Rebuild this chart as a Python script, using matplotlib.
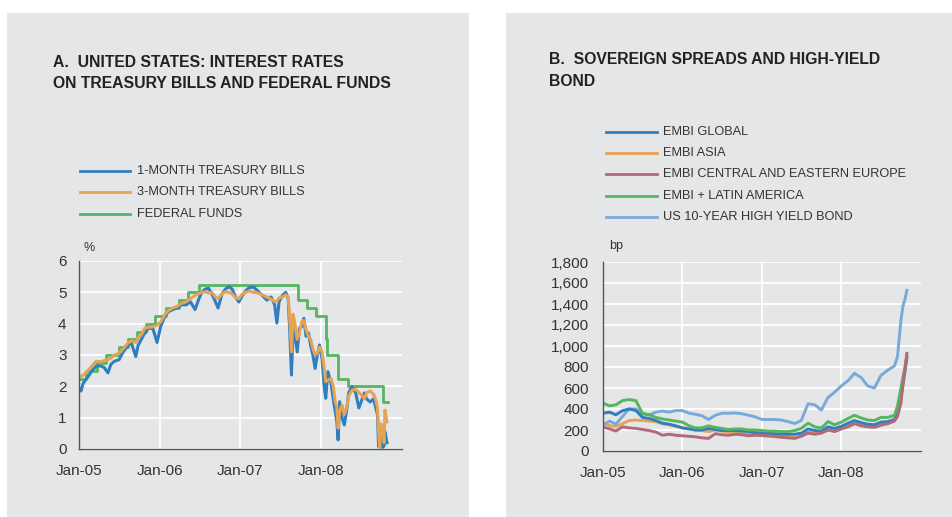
import numpy as np
import pandas as pd
import matplotlib
matplotlib.use('Agg')
import matplotlib.pyplot as plt
from matplotlib.lines import Line2D
from matplotlib.patches import Rectangle
from matplotlib.ticker import FuncFormatter

plt.rcParams['font.family'] = ['Liberation Sans', 'DejaVu Sans']

# Panel A data ----------------------------------------------------------------
fed_dates = ['2005-01-01', '2005-02-02', '2005-03-22', '2005-05-03', '2005-06-30', '2005-08-09',
             '2005-09-20', '2005-11-01', '2005-12-13', '2006-01-31', '2006-03-28', '2006-05-10',
             '2006-06-29', '2007-09-18', '2007-10-31', '2007-12-11', '2008-01-22', '2008-01-30',
             '2008-03-18', '2008-04-30', '2008-10-08', '2008-10-29']
fed_rate = [2.25, 2.5, 2.75, 3.0, 3.25, 3.5, 3.75, 4.0, 4.25, 4.5, 4.75, 5.0,
            5.25, 4.75, 4.5, 4.25, 3.5, 3.0, 2.25, 2.0, 1.5, 1.5]

tb_dates = ['2005-01-01', '2005-01-10', '2005-01-20', '2005-02-10', '2005-03-01', '2005-03-20',
            '2005-04-10', '2005-04-25', '2005-05-12', '2005-05-25', '2005-06-10', '2005-07-01',
            '2005-07-20', '2005-08-10', '2005-08-25', '2005-09-15', '2005-09-25', '2005-10-10',
            '2005-10-25', '2005-11-10', '2005-12-01', '2005-12-20', '2006-01-05', '2006-01-25',
            '2006-02-10', '2006-03-01', '2006-03-20', '2006-04-10', '2006-05-01', '2006-05-20',
            '2006-06-10', '2006-06-25', '2006-07-10', '2006-07-25', '2006-08-10', '2006-08-25',
            '2006-09-10', '2006-09-22', '2006-10-10', '2006-10-25', '2006-11-10', '2006-11-25',
            '2006-12-10', '2006-12-25', '2007-01-10', '2007-01-25', '2007-02-10', '2007-03-01',
            '2007-03-20', '2007-04-10', '2007-05-01', '2007-05-20', '2007-06-05', '2007-06-15',
            '2007-06-25', '2007-07-10', '2007-07-25', '2007-08-05', '2007-08-12', '2007-08-20',
            '2007-08-27', '2007-09-05', '2007-09-15', '2007-09-25', '2007-10-05', '2007-10-15',
            '2007-10-25', '2007-11-05', '2007-11-15', '2007-11-25', '2007-12-05', '2007-12-15',
            '2007-12-25', '2008-01-05', '2008-01-15', '2008-01-22', '2008-02-01', '2008-02-15',
            '2008-02-25', '2008-03-05', '2008-03-12', '2008-03-18', '2008-03-25', '2008-04-05',
            '2008-04-15', '2008-04-25', '2008-05-05', '2008-05-20', '2008-06-05', '2008-06-20',
            '2008-07-05', '2008-07-15', '2008-07-25', '2008-08-10', '2008-08-25', '2008-09-05',
            '2008-09-12', '2008-09-17', '2008-09-22', '2008-09-28', '2008-10-05', '2008-10-12',
            '2008-10-16', '2008-10-25']
tb_1m = [1.95, 1.85, 2.1, 2.3, 2.5, 2.65,
         2.65, 2.6, 2.43, 2.7, 2.8, 2.85,
         3.1, 3.3, 3.4, 2.95, 3.3, 3.5,
         3.7, 3.85, 3.85, 3.4, 3.9, 4.25,
         4.38, 4.45, 4.5, 4.6, 4.6, 4.7,
         4.45, 4.75, 5.0, 5.1, 5.13, 4.95,
         4.7, 4.5, 4.95, 5.1, 5.18, 5.1,
         4.85, 4.69, 4.9, 5.05, 5.15, 5.17,
         5.05, 4.9, 4.75, 4.85, 4.6, 4.02,
         4.7, 4.9, 5.0, 4.8, 3.8, 2.36,
         3.8, 3.6, 3.1, 3.85, 3.9, 4.17,
         3.6, 3.7, 3.3, 3.0, 2.57, 3.0,
         3.32, 2.9, 2.0, 1.62, 2.47, 2.1,
         1.6, 1.19, 0.9, 0.29, 1.51, 1.0,
         0.77, 1.2, 1.8, 1.99, 1.8, 1.31,
         1.6, 1.79, 1.6, 1.5, 1.6, 1.3,
         1.1, 0.07, 0.3, 0.6, 0.05, 0.1,
         0.55, 0.2]
tb_3m = [2.3, 2.32, 2.35, 2.5, 2.65, 2.8,
         2.78, 2.82, 2.85, 2.9, 3.0, 3.05,
         3.2, 3.38, 3.45, 3.4, 3.55, 3.65,
         3.85, 3.88, 3.9, 3.95, 4.05, 4.3,
         4.42, 4.5, 4.55, 4.65, 4.7, 4.8,
         4.9, 4.95, 5.0, 5.02, 4.98, 5.0,
         4.85, 4.8, 4.95, 5.02, 5.0, 4.95,
         4.82, 4.8, 4.95, 5.0, 5.05, 5.0,
         4.98, 4.92, 4.85, 4.78, 4.7, 4.72,
         4.82, 4.85, 4.92, 4.85, 4.2, 3.1,
         4.3, 4.0, 3.5, 3.7, 4.05, 4.1,
         3.8, 3.6, 3.5, 3.2, 3.0, 3.05,
         3.25, 3.1, 2.6, 2.15, 2.2, 2.25,
         2.0, 1.5, 1.35, 0.66, 1.2, 1.4,
         1.1, 1.3, 1.7, 1.88, 1.9, 1.8,
         1.7, 1.6, 1.8, 1.85, 1.75, 1.55,
         1.3, 0.55, 0.05, 0.8, 0.6, 0.2,
         1.24, 0.87]

# Panel B data ----------------------------------------------------------------
sp_dates = list(pd.date_range('2005-01-01', '2008-09-01', freq='MS').strftime('%Y-%m-%d')) + \
    ['2008-09-15', '2008-10-01', '2008-10-10', '2008-10-20', '2008-10-28']
embi_global = [360, 370, 345, 385, 400, 385, 320, 310, 290, 265, 255, 240,
               220, 210, 200, 200, 215, 205, 195, 195, 195, 190, 185, 175,
               170, 168, 165, 160, 160, 160, 170, 210, 195, 190, 230, 215,
               235, 265, 290, 270, 255, 250, 275, 280, 300,
               360, 520, 640, 780, 890]
embi_asia = [270, 240, 235, 260, 290, 295, 290, 285, 280, 260, 250, 235,
             220, 210, 200, 195, 185, 200, 190, 180, 172, 168, 160, 155,
             145, 140, 135, 135, 135, 130, 145, 180, 170, 175, 200, 190,
             215, 240, 265, 250, 240, 235, 255, 265, 290,
             330, 480, 620, 760, 880]
embi_cee = [230, 210, 190, 230, 220, 215, 205, 195, 180, 150, 160, 150,
            145, 140, 135, 125, 120, 165, 155, 150, 160, 155, 145, 150,
            150, 145, 140, 130, 125, 120, 140, 170, 160, 170, 200, 185,
            210, 230, 260, 240, 230, 225, 245, 260, 285,
            330, 460, 650, 800, 930]
embi_latam = [455, 430, 440, 480, 490, 480, 360, 345, 320, 305, 295, 285,
              275, 240, 220, 220, 240, 225, 215, 205, 210, 210, 200, 200,
              195, 190, 190, 185, 185, 195, 215, 265, 230, 220, 280, 250,
              275, 310, 340, 315, 295, 290, 320, 320, 340,
              430, 600, 700, 800, 910]
us_hy = [250, 285, 255, 330, 400, 400, 350, 345, 370, 380, 370, 385,
         385, 360, 350, 335, 300, 340, 360, 360, 362, 355, 340, 325,
         300, 300, 300, 295, 280, 262, 290, 450, 440, 390, 510, 560,
         620, 670, 740, 700, 620, 600, 720, 770, 810,
         900, 1250, 1380, 1450, 1530]

labels_a = ['1-MONTH TREASURY BILLS', '3-MONTH TREASURY BILLS', 'FEDERAL FUNDS']
labels_b = ['EMBI GLOBAL', 'EMBI ASIA', 'EMBI CENTRAL AND EASTERN EUROPE',
            'EMBI + LATIN AMERICA', 'US 10-YEAR HIGH YIELD BOND']
year_ticks = ['2005-01-01', '2006-01-01', '2007-01-01', '2008-01-01']
year_labels = ['Jan-05', 'Jan-06', 'Jan-07', 'Jan-08']

BG = '#e5e6e8'
TXT = '#333333'
c_blue = '#2f7fc0'
c_orange = '#e3a455'
c_green = '#55b560'
c_mauve = '#b06a7a'
c_light = '#78a9d9'

W, H = 953, 517
fig = plt.figure(figsize=(9.53, 5.17), dpi=100)
fig.patch.set_facecolor('white')

def px(x, y):
    return x / W, 1 - y / H

# grey panels
fig.add_artist(Rectangle((7 / W, 0), 462 / W, 1 - 13 / H, transform=fig.transFigure,
                         facecolor=BG, edgecolor='none', zorder=0))
fig.add_artist(Rectangle((506 / W, 0), 447 / W, 1 - 13 / H, transform=fig.transFigure,
                         facecolor=BG, edgecolor='none', zorder=0))

def style_axes(ax, ylim, yticks, fmt, pad_y):
    ax.set_facecolor(BG)
    ax.set_xlim(pd.Timestamp('2005-01-01'), pd.Timestamp('2009-01-01'))
    ax.set_ylim(*ylim)
    ax.set_yticks(yticks)
    ax.yaxis.set_major_formatter(FuncFormatter(fmt))
    ax.set_xticks(pd.to_datetime(year_ticks))
    ax.set_xticklabels(year_labels)
    ax.grid(True, color='white', lw=1.3)
    ax.set_axisbelow(True)
    for s in ['top', 'right']:
        ax.spines[s].set_visible(False)
    for s in ['left', 'bottom']:
        ax.spines[s].set_color('#555555')
        ax.spines[s].set_linewidth(1.0)
        ax.spines[s].set_zorder(5)
    ax.tick_params(axis='both', length=0, labelsize=11, colors=TXT)
    ax.tick_params(axis='y', pad=pad_y)
    ax.tick_params(axis='x', pad=11)

# Panel A ---------------------------------------------------------------------
axA = fig.add_axes([79 / W, 1 - 449 / H, 323 / W, 188 / H])
style_axes(axA, (0, 6), range(0, 7), lambda v, p: f'{v:.0f}', 9)
axA.plot(pd.to_datetime(tb_dates), tb_1m, color=c_blue, lw=2.2, zorder=3)
axA.plot(pd.to_datetime(tb_dates), tb_3m, color=c_orange, lw=2.2, zorder=4)
axA.step(pd.to_datetime(fed_dates), fed_rate, where='post', color=c_green, lw=2.0, zorder=2)

fig.text(*px(53, 63), 'A.  UNITED STATES: INTEREST RATES', fontsize=11.3, fontweight='bold',
         color='#222222', va='center', ha='left')
fig.text(*px(53, 84), 'ON TREASURY BILLS AND FEDERAL FUNDS', fontsize=11.3, fontweight='bold',
         color='#222222', va='center', ha='left')
fig.text(*px(89, 248), '%', fontsize=9, color=TXT, va='center', ha='center')

for i, (lab, col) in enumerate(zip(labels_a, [c_blue, c_orange, c_green])):
    yy = 171 + i * 21.3
    fig.add_artist(Line2D([80 / W, 130 / W], [1 - yy / H, 1 - yy / H], color=col, lw=2.0,
                          transform=fig.transFigure))
    fig.text(*px(137, yy), lab, fontsize=9.2, color=TXT, va='center', ha='left')

# Panel B ---------------------------------------------------------------------
axB = fig.add_axes([603 / W, 1 - 451 / H, 318 / W, 189 / H])
style_axes(axB, (0, 1800), range(0, 1801, 200), lambda v, p: f'{v:,.0f}', 10)
sp_x = pd.to_datetime(sp_dates)
series_b = [embi_global, embi_asia, embi_cee, embi_latam, us_hy]
colors_b = [c_blue, c_orange, c_mauve, c_green, c_light]
zord = [3, 2, 4, 3.5, 2.5]
for vals, col, z in zip(series_b, colors_b, zord):
    axB.plot(sp_x, vals, color=col, lw=2.1, zorder=z)

fig.text(*px(549, 60), 'B.  SOVEREIGN SPREADS AND HIGH-YIELD', fontsize=11.3, fontweight='bold',
         color='#222222', va='center', ha='left')
fig.text(*px(549, 81), 'BOND', fontsize=11.3, fontweight='bold',
         color='#222222', va='center', ha='left')
fig.text(*px(616, 246), 'bp', fontsize=9, color=TXT, va='center', ha='center')

for i, (lab, col) in enumerate(zip(labels_b, colors_b)):
    yy = 132 + i * 21.2
    fig.add_artist(Line2D([606 / W, 657 / W], [1 - yy / H, 1 - yy / H], color=col, lw=2.0,
                          transform=fig.transFigure))
    fig.text(*px(663, yy), lab, fontsize=9.2, color=TXT, va='center', ha='left')

fig.savefig('out.png', dpi=100, facecolor='white')
